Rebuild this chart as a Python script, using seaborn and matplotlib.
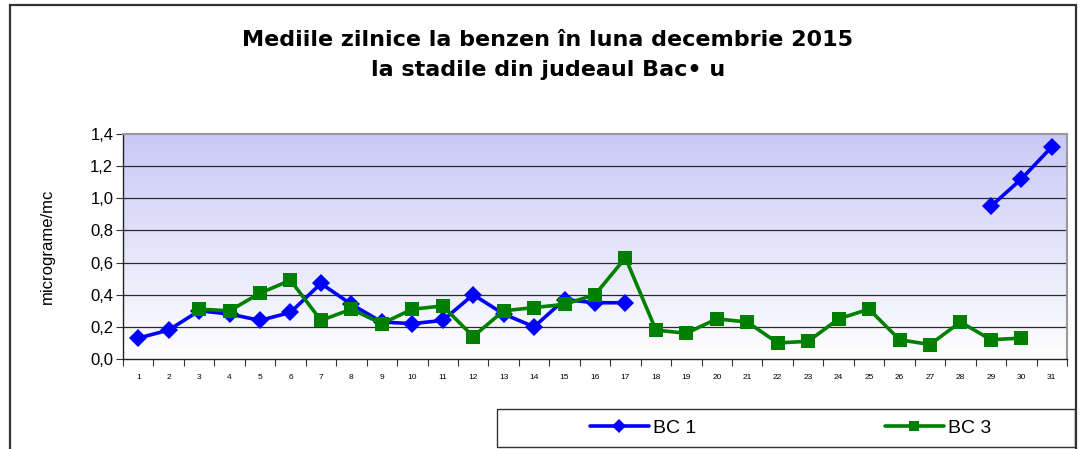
import numpy as np
import pandas as pd
import matplotlib
matplotlib.use("Agg")
import matplotlib.pyplot as plt
import seaborn as sns
from matplotlib.lines import Line2D
from matplotlib.patches import Rectangle
from matplotlib.colors import LinearSegmentedColormap

# data: daily benzene means, December 2015 (NaN = no measurement)
days = list(range(1, 32))
bc1 = [0.13, 0.18, 0.30, 0.28, 0.24, 0.29, 0.47, 0.34, 0.23, 0.22,
       0.24, 0.40, 0.28, 0.20, 0.37, 0.35, 0.35, np.nan, np.nan, np.nan,
       np.nan, np.nan, np.nan, np.nan, np.nan, np.nan, np.nan, np.nan,
       0.95, 1.12, 1.32]
bc3 = [np.nan, np.nan, 0.31, 0.30, 0.41, 0.49, 0.24, 0.31, 0.22, 0.31,
       0.33, 0.14, 0.30, 0.32, 0.34, 0.40, 0.63, 0.18, 0.16, 0.25,
       0.23, 0.10, 0.11, 0.25, 0.31, 0.12, 0.09, 0.23, 0.12, 0.13, np.nan]
series_names = ["BC 1", "BC 3"]
title_lines = ["Mediile zilnice la benzen în luna decembrie 2015",
               "la stadile din judeaul Bac• u"]
y_label = "micrograme/mc"
y_ticks = [0.0, 0.2, 0.4, 0.6, 0.8, 1.0, 1.2, 1.4]


def to_long(name, values):
    # split into contiguous segments so gaps stay gaps
    df = pd.DataFrame({"day": days, "value": values})
    df["seg"] = df["value"].isna().cumsum()
    df = df.dropna()
    df["station"] = name
    return df


data = pd.concat([to_long("BC 1", bc1), to_long("BC 3", bc3)], ignore_index=True)

sns.set_style("white")
plt.rcParams["font.family"] = ["Liberation Sans", "DejaVu Sans"]
plt.rcParams.update({"text.color": "black", "axes.labelcolor": "black",
                     "xtick.color": "black", "ytick.color": "black"})

fig = plt.figure(figsize=(10.8, 4.49), dpi=100)
ax = fig.add_axes([123 / 1080, 90 / 449, 944 / 1080, 225 / 449])

# gradient background of the plot area
cmap = LinearSegmentedColormap.from_list("bg", ["#ffffff", "#c9c9f7"])
grad = np.linspace(0, 1, 256).reshape(-1, 1)
ax.imshow(grad, extent=[0.5, 31.5, 0, 1.4], origin="lower", aspect="auto",
          cmap=cmap, zorder=0)

for y in y_ticks[1:-1]:
    ax.axhline(y, color="#2a2a2a", lw=0.9, zorder=1)

colors = {"BC 1": "#0000ff", "BC 3": "#008000"}
markers = {"BC 1": "D", "BC 3": "s"}
sizes = {"BC 1": 9.5, "BC 3": 9.5}
for name in series_names:
    sub = data[data["station"] == name]
    sns.lineplot(data=sub, x="day", y="value", units="seg", estimator=None,
                 color=colors[name], marker=markers[name], markersize=sizes[name],
                 markeredgewidth=0, linewidth=2.6, ax=ax, legend=False, zorder=3)

ax.set_xlim(0.5, 31.5)
ax.set_ylim(0, 1.4)
ax.set_xticks(days)
ax.set_xticklabels([str(d) for d in days], fontsize=6)
ax.set_xticks(np.arange(0.5, 32, 1), minor=True)
ax.tick_params(axis="x", which="major", length=0, pad=11)
ax.tick_params(axis="x", which="minor", length=5, width=0.8, direction="out",
               color="#333333", bottom=True)
ax.set_yticks(y_ticks)
ax.set_yticklabels([f"{v:.1f}".replace(".", ",") for v in y_ticks], fontsize=12)
ax.tick_params(axis="y", length=5, width=0.8, direction="out", color="#333333",
               left=True, pad=2)
ax.set_xlabel("")
ax.set_ylabel(y_label, fontsize=12)
ax.yaxis.set_label_coords(-68 / 944, 0.5)

for side in ["top", "right"]:
    ax.spines[side].set_color("#9a9a9a")
    ax.spines[side].set_linewidth(1.5)
for side in ["left", "bottom"]:
    ax.spines[side].set_color("#222222")
    ax.spines[side].set_linewidth(1.0)

# title
title_font = {"family": ["DejaVu Sans"], "fontsize": 16, "fontweight": "bold"}
fig.text(548 / 1080, 1 - 40 / 449, title_lines[0], ha="center", va="center",
         **title_font)
fig.text(548 / 1080, 1 - 70 / 449, title_lines[1], ha="center", va="center",
         **title_font)

# outer chart frame
fig.add_artist(Rectangle((10 / 1080, -0.05), 1066 / 1080, 1.05 - 5 / 449,
                         transform=fig.transFigure, fill=False,
                         edgecolor="#333333", lw=1.6))

# legend box
fig.add_artist(Rectangle((497 / 1080, 2 / 449), 578 / 1080, 38 / 449,
                         transform=fig.transFigure, fill=False,
                         edgecolor="#333333", lw=1.0))
handles = [Line2D([], [], color=colors[n], marker=markers[n], markersize=7,
                  markeredgewidth=0, linewidth=2.6) for n in series_names]
fig.legend(handles, series_names, loc="center", ncol=2, frameon=False,
           bbox_to_anchor=(791 / 1080, 1 - 428 / 449), fontsize=14,
           handlelength=3.0, handletextpad=0.25, columnspacing=9.7)

plt.savefig("out.png", dpi=100)
plt.close()
